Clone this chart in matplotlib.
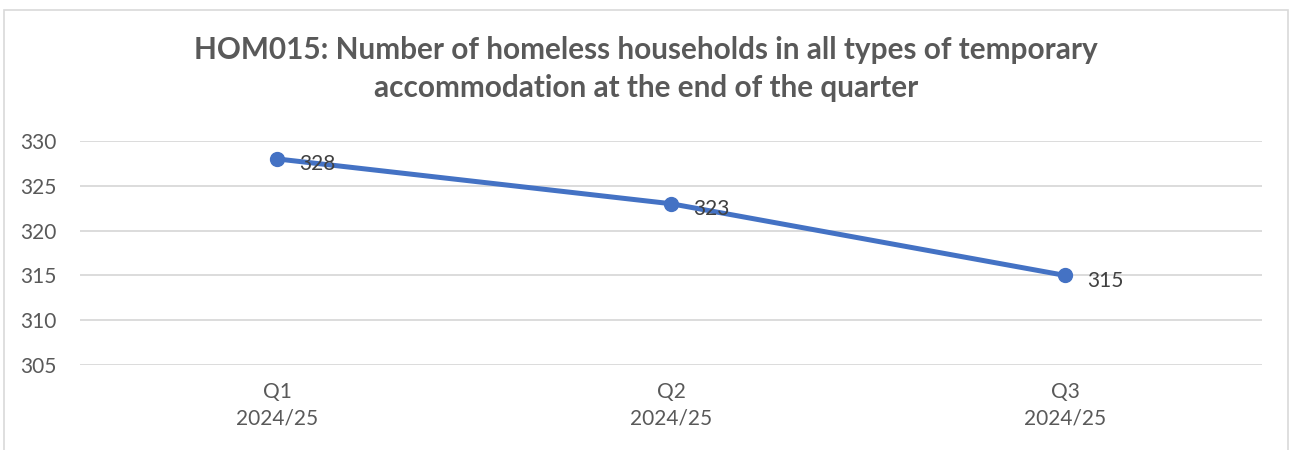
import matplotlib.pyplot as plt
from matplotlib.patches import Rectangle

quarters = ["Q1\n2024/25", "Q2\n2024/25", "Q3\n2024/25"]
households = [328, 323, 315]
yticks = [305, 310, 315, 320, 325, 330]
title = "HOM015: Number of homeless households in all types of temporary\naccommodation at the end of the quarter"

plt.rcParams['font.family'] = ['Lato', 'DejaVu Sans']

fig = plt.figure(figsize=(12.91, 4.5), dpi=100)
ax = fig.add_axes([80/1291, 85/450, 1182/1291, 224/450])

x = range(len(quarters))
ax.plot(x, households, color='#4472C4', lw=3.6, marker='o', ms=10, solid_capstyle='round', zorder=3)
for i, v in zip(x, households):
	ax.annotate(str(v), (i, v), xytext=(16, -4), textcoords='offset points',
		ha='left', va='center', fontsize=15, color='#404040', zorder=4)

ax.set_xlim(-0.5, len(quarters) - 0.5)
ax.set_ylim(305, 330)
ax.set_yticks(yticks)
ax.set_xticks(list(x))
ax.set_xticklabels(quarters, linespacing=1.45)
ax.tick_params(axis='both', length=0, labelsize=15, labelcolor='#595959')
ax.tick_params(axis='x', pad=12)
ax.tick_params(axis='y', pad=17)
ax.grid(axis='y', color='#D9D9D9', lw=1.3)
ax.set_axisbelow(True)
for s in ax.spines.values():
	s.set_visible(False)

fig.text(646/1291, 1 - 69/450, title, ha='center', va='center', fontsize=21.4,
	fontweight='bold', color='#595959', linespacing=1.4)

fig.patches.append(Rectangle((4/1291, -0.05), 1284/1291, 1.05 - 10/450, transform=fig.transFigure,
	fill=False, edgecolor='#D9D9D9', lw=1.2))

fig.savefig('out.png', dpi=100)
